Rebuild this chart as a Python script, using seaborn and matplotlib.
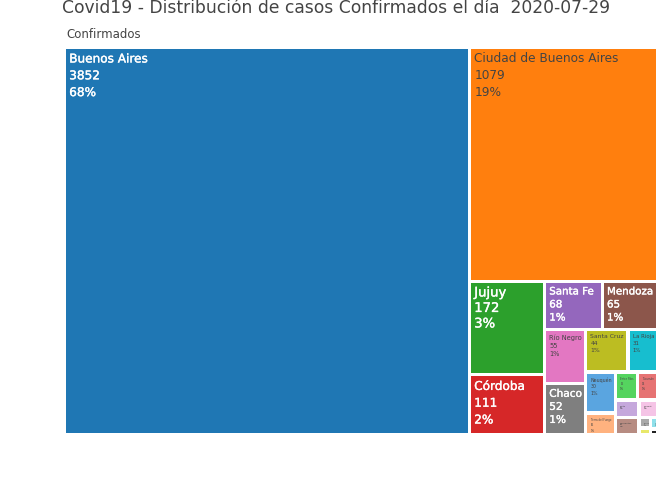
import matplotlib
matplotlib.use('Agg')
import matplotlib.pyplot as plt
import matplotlib.patheffects as pe
from matplotlib.patches import Rectangle
import seaborn as sns

provincias = ['Buenos Aires', 'Ciudad de Buenos Aires', 'Jujuy', 'Córdoba', 'Santa Fe', 'Mendoza',
              'Río Negro', 'Chaco', 'Santa Cruz', 'La Rioja', 'Neuquén', 'Tierra del Fuego',
              'Entre Ríos', 'Tucumán', 'Salta', 'Corrientes', 'Chubut', 'Misiones', 'San Luis',
              'San Juan', 'Formosa']
confirmados = [3852, 1079, 172, 111, 68, 65, 55, 52, 44, 31, 30, 16, 15, 14, 10, 10, 8, 3, 2, 2, 1]
porcentajes = ['68%', '19%', '3%', '2%', '1%', '1%', '1%', '1%', '1%', '1%', '1%',
               '0%', '0%', '0%', '0%', '0%', '0%', '0%', '0%', '0%', '0%']

sns.set_theme(style='white')
plt.rcParams['font.family'] = ['DejaVu Sans']

base = sns.color_palette('tab10').as_hex()
claros = ['#5aa5e0', '#ffb27f', '#55d45f', '#e67373', '#c5a8dc', '#b78c82', '#f5c4e6',
          '#aaaaaa', '#e8e86a', '#8fe0ea', '#222222']
colores = base + claros
oscuros = {0, 2, 3, 4, 5, 7}


def squarify(values, x0, y0, x1, y1):
    # same idea as d3 squarify, ratio 1
    out = []
    total = sum(values)
    i0 = 0
    n = len(values)
    while i0 < n:
        dx = x1 - x0
        dy = y1 - y0
        i1 = i0 + 1
        s = values[i0]
        vmin = vmax = s
        alpha = max(dy / dx, dx / dy) / total
        beta = s * s * alpha
        best = max(vmax / beta, beta / vmin)
        while i1 < n:
            v = values[i1]
            s2 = s + v
            vmin2 = min(vmin, v)
            vmax2 = max(vmax, v)
            beta = s2 * s2 * alpha
            r = max(vmax2 / beta, beta / vmin2)
            if r > best:
                break
            s, vmin, vmax, best = s2, vmin2, vmax2, r
            i1 += 1
        row = values[i0:i1]
        if dx < dy:
            h = dy * s / total
            x = x0
            for v in row:
                w = dx * v / s
                out.append((x, y0, w, h))
                x += w
            y0 += h
        else:
            w = dx * s / total
            y = y0
            for v in row:
                h = dy * v / s
                out.append((x0, y, w, h))
                y += h
            x0 += w
        total -= s
        i0 = i1
    return out


fig = plt.figure(figsize=(6.72, 4.8), dpi=100)
ax = fig.add_axes([64.5 / 672, 1 - 435 / 480, 593 / 672, 387.7 / 480])
ax.set_xlim(0, 593)
ax.set_ylim(387.7, 0)
ax.axis('off')

pad = 1.7
renderer = fig.canvas.get_renderer()
for i, (x, y, w, h) in enumerate(squarify(confirmados, 0, 0, 593, 387.7)):
    w2 = max(w - 2 * pad, 0.8)
    h2 = max(h - 2 * pad, 0.8)
    rect = Rectangle((x + pad, y + pad), w2, h2, facecolor=colores[i], edgecolor='none')
    ax.add_patch(rect)
    color = 'white' if i in oscuros else '#444444'
    tam = 9.5 if i == 2 else 8.7
    t = ax.text(x + pad + 3, y + pad + 3.5, f'{provincias[i]}\n{confirmados[i]}\n{porcentajes[i]}',
                va='top', ha='left', fontsize=tam, color=color,
                linespacing=1.25 if i == 2 else 1.38)
    if i in oscuros:
        t.set_path_effects([pe.withStroke(linewidth=0.25, foreground='white')])
    # achicar el texto hasta que entre en la caja
    bb = t.get_window_extent(renderer)
    esc = min(1, (w2 - 5) / bb.width, (h2 - 5) / bb.height)
    t.set_fontsize(max(tam * esc, 0.5))
    t.set_clip_path(rect)
    t.set_clip_on(True)

fig.text(62 / 672, 1 - 8 / 480, 'Covid19 - Distribución de casos Confirmados el día  2020-07-29',
         fontsize=12.3, color='#444444', va='center', ha='left')
fig.text(66 / 672, 1 - 35 / 480, 'Confirmados', fontsize=8.5, color='#444444', va='center', ha='left')

fig.savefig('out.png', dpi=100)
